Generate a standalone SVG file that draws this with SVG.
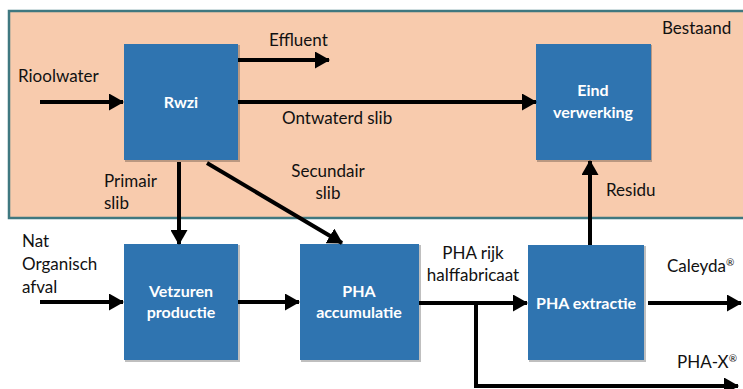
<svg xmlns="http://www.w3.org/2000/svg" width="743" height="389" viewBox="0 0 743 389">
<style>
.t{font-family:Lato,"Open Sans","Liberation Sans",sans-serif;font-size:17px;fill:#111}
.w{font-family:Lato,"Open Sans","Liberation Sans",sans-serif;font-size:16px;font-weight:bold;fill:#fff;text-anchor:middle}
.box{fill:#2f74b0}
.sh{fill:#000;opacity:0.25}
.ln{stroke:#000;stroke-width:4;fill:none}
</style>
<defs>
<marker id="ah" markerUnits="userSpaceOnUse" markerWidth="15" markerHeight="17" refX="14" refY="8.5" orient="auto">
<path d="M0,0 L15,8.5 L0,17 Z" fill="#000"/>
</marker>
</defs>
<rect id="bestaand-area" x="9" y="11" width="750" height="207" fill="#f8cbad" stroke="#3f7880" stroke-width="2.5"/>
<text class="t" x="662" y="34">Bestaand</text>
<g id="rwzi"><rect class="sh" x="125" y="45" width="115" height="117"/><rect class="box" x="124" y="44" width="114" height="116"/><text class="w" x="181" y="108">Rwzi</text></g>
<g id="eind"><rect class="sh" x="537" y="45" width="115" height="117"/><rect class="box" x="536" y="44" width="115" height="116"/><text class="w" x="593" y="96">Eind</text><text class="w" x="593" y="118">verwerking</text></g>
<g id="vetzuren"><rect class="sh" x="125" y="245" width="115" height="117"/><rect class="box" x="124" y="244" width="114" height="116"/><text class="w" x="181" y="297">Vetzuren</text><text class="w" x="181" y="318">productie</text></g>
<g id="accumulatie"><rect class="sh" x="301" y="245" width="120" height="117"/><rect class="box" x="300" y="244" width="119" height="116"/><text class="w" x="359" y="297">PHA</text><text class="w" x="359" y="318">accumulatie</text></g>
<g id="extractie"><rect class="sh" x="529" y="246" width="117" height="116"/><rect class="box" x="528" y="245" width="116" height="115"/><text class="w" x="586" y="309">PHA extractie</text></g>
<g id="connectors">
<line class="ln" x1="40" y1="102" x2="123" y2="102" marker-end="url(#ah)"/>
<line class="ln" x1="238" y1="60" x2="329" y2="60" marker-end="url(#ah)"/>
<line class="ln" x1="238" y1="102" x2="536" y2="102" marker-end="url(#ah)"/>
<line class="ln" x1="179" y1="162" x2="179" y2="244" marker-end="url(#ah)"/>
<line class="ln" x1="207" y1="163" x2="342" y2="243" marker-end="url(#ah)"/>
<line class="ln" x1="590" y1="245" x2="590" y2="161" marker-end="url(#ah)"/>
<line class="ln" x1="40" y1="302" x2="123" y2="302" marker-end="url(#ah)"/>
<line class="ln" x1="238" y1="302" x2="299" y2="302" marker-end="url(#ah)"/>
<line class="ln" x1="419" y1="303" x2="527" y2="303" marker-end="url(#ah)"/>
<polyline class="ln" points="476,303 476,386 738,386" marker-end="url(#ah)"/>
<line class="ln" x1="648" y1="303" x2="741" y2="303" marker-end="url(#ah)"/>
</g>
<g id="labels">
<text class="t" x="18" y="82">Rioolwater</text>
<text class="t" x="269" y="46">Effluent</text>
<text class="t" x="282" y="124">Ontwaterd slib</text>
<text class="t" x="104" y="187">Primair</text>
<text class="t" x="104" y="209">slib</text>
<text class="t" x="328" y="177" text-anchor="middle">Secundair</text>
<text class="t" x="328" y="199" text-anchor="middle">slib</text>
<text class="t" x="606" y="196">Residu</text>
<text class="t" x="22" y="247">Nat</text>
<text class="t" x="22" y="270">Organisch</text>
<text class="t" x="22" y="293">afval</text>
<text class="t" x="473" y="259" text-anchor="middle">PHA rijk</text>
<text class="t" x="473" y="281" text-anchor="middle">halffabricaat</text>
<text class="t" x="667" y="272">Caleyda<tspan font-size="10" dy="-6">®</tspan></text>
<text class="t" x="677" y="368">PHA-X<tspan font-size="10" dy="-6">®</tspan></text>
</g>
</svg>
